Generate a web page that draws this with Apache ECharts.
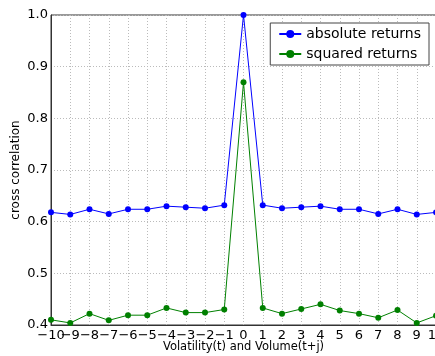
<!DOCTYPE html>
<html>
<head>
<meta charset="utf-8">
<script src="https://cdn.jsdelivr.net/npm/echarts@6/dist/echarts.min.js"></script>
<style>
  html, body { margin: 0; padding: 0; background: #fff; }
  #chart { width: 435px; height: 356px; }
</style>
</head>
<body>
<div id="chart"></div>
<script>
// lags j
const lags = [-10, -9, -8, -7, -6, -5, -4, -3, -2, -1, 0, 1, 2, 3, 4, 5, 6, 7, 8, 9, 10]
const absoluteReturns = [0.618, 0.614, 0.624, 0.615, 0.624, 0.624, 0.630, 0.628, 0.626, 0.632, 1.0,
  0.632, 0.626, 0.628, 0.630, 0.624, 0.624, 0.615, 0.624, 0.614, 0.618]
const squaredReturns = [0.410, 0.404, 0.422, 0.409, 0.419, 0.419, 0.433, 0.424, 0.424, 0.430, 0.870,
  0.433, 0.422, 0.431, 0.440, 0.428, 0.422, 0.414, 0.429, 0.404, 0.418]
const yTicks = [0.4, 0.5, 0.6, 0.7, 0.8, 0.9, 1.0]

const font = "DejaVu Sans"
const minus = v => String(v).replace("-", "\u2212")

let chart = echarts.init(document.getElementById("chart"))
chart.setOption({
  animation: false,
  textStyle: { fontFamily: font },
  grid: {
    left: 51,
    right: -1,
    top: 15,
    bottom: 31,
    containLabel: false,
    outerBoundsMode: "none",
    show: true,
    borderColor: "#333",
    borderWidth: 1
  },
  legend: {
    right: 6,
    top: 23,
    orient: "vertical",
    backgroundColor: "#fff",
    borderColor: "#444",
    borderWidth: 1,
    padding: [4, 8, 4, 8],
    itemGap: 6,
    itemWidth: 22,
    itemHeight: 10,
    textStyle: { fontSize: 14, color: "#000", fontFamily: font },
    data: ["absolute returns", "squared returns"]
  },
  xAxis: {
    type: "category",
    data: lags,
    boundaryGap: false,
    name: "Volatility(t) and Volume(t+j)",
    nameLocation: "middle",
    nameGap: 16,
    nameMoveOverlap: false,
    nameTextStyle: { fontSize: 11.5, color: "#000" },
    axisLine: { lineStyle: { color: "#333" } },
    axisTick: { show: false },
    axisLabel: { interval: 0, fontSize: 13, color: "#000", margin: 4, formatter: minus },
    splitLine: { show: true, interval: 0, lineStyle: { color: "#bbb", type: [1, 2] } }
  },
  yAxis: {
    type: "value",
    min: yTicks[0],
    max: yTicks[yTicks.length - 1],
    interval: 0.1,
    name: "cross correlation",
    nameLocation: "middle",
    nameGap: 29,
    nameMoveOverlap: false,
    nameTextStyle: { fontSize: 12, color: "#000" },
    axisLine: { show: true, onZero: false, lineStyle: { color: "#333" } },
    axisTick: { show: false },
    axisLabel: { fontSize: 13, color: "#000", margin: 3, formatter: v => v.toFixed(1) },
    splitLine: { lineStyle: { color: "#bbb", type: [1, 2] } }
  },
  series: [
    {
      name: "absolute returns",
      type: "line",
      data: absoluteReturns,
      symbol: "circle",
      symbolSize: 6,
      lineStyle: { width: 1, color: "#0000ff" },
      itemStyle: { color: "#0000ff" }
    },
    {
      name: "squared returns",
      type: "line",
      data: squaredReturns,
      symbol: "circle",
      symbolSize: 6,
      lineStyle: { width: 1, color: "#008000" },
      itemStyle: { color: "#008000" }
    }
  ]
})
</script>
</body>
</html>
